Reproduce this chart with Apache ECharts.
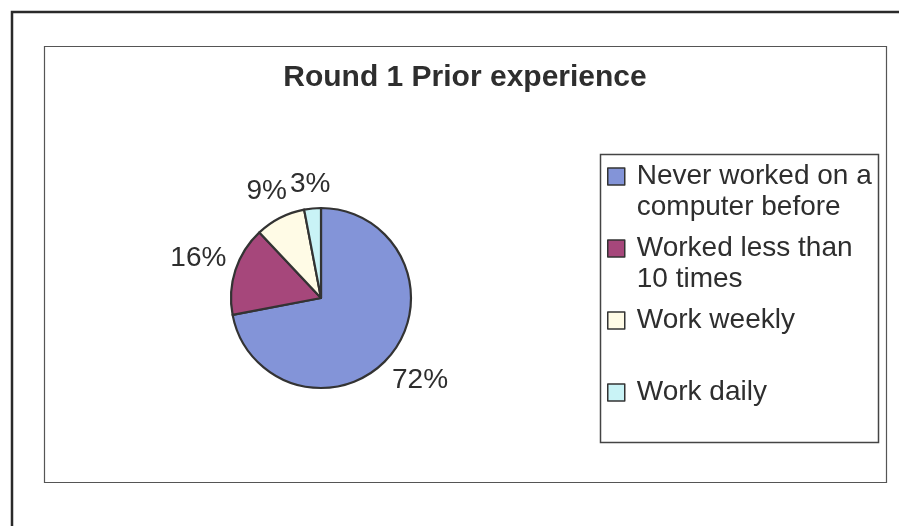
<!DOCTYPE html>
<html>
<head>
<meta charset="utf-8">
<title>Round 1 Prior experience</title>
<script src="https://cdn.jsdelivr.net/npm/echarts@6/dist/echarts.min.js"></script>
<style>
  html, body { margin: 0; padding: 0; background: #ffffff; }
  #chart { width: 899px; height: 526px; }
</style>
</head>
<body>
<div id="chart"></div>
<script>
// Survey answers, percent of respondents
const categories = [
  'Never worked on a computer before',
  'Worked less than 10 times',
  'Work weekly',
  'Work daily'
];
const values = [72, 16, 9, 3];
const sliceColors = ['#8394d8', '#a6477b', '#fffbe6', '#c9f3f6'];

const FONT = '"Liberation Sans", Arial, sans-serif';
const INK = '#2e2e2e';

// Pie geometry (pixels)
const CX = 321, CY = 298, R = 90;
const LABEL_GAP = 8;

const total = values.reduce((a, b) => a + b, 0);

// Place each percentage just outside the rim along the slice's middle angle,
// pushed out far enough that the text box clears the circle.
function pieLabelLayout(params) {
  const i = params.dataIndex;
  let before = 0;
  for (let k = 0; k < i; k++) before += values[k];
  const mid = (before + values[i] / 2) / total * Math.PI * 2;
  const ux = Math.sin(mid), uy = -Math.cos(mid);
  const hw = params.labelRect.width / 2, hh = params.labelRect.height / 2;
  const d = R + LABEL_GAP + hw * Math.abs(ux) + hh * Math.abs(uy);
  return {
    x: CX + d * ux,
    y: CY + d * uy,
    align: 'center',
    verticalAlign: 'middle'
  };
}

// Legend rows all span three text lines so they are evenly spaced; the
// leading blank line keeps the icon level with the first line of text.
const wrapsToTwoLines = [true, true, false, false];
function legendText(name) {
  const i = categories.indexOf(name);
  return '\n' + name + (wrapsToTwoLines[i] ? '' : '\n\u00a0');
}

const chart = echarts.init(document.getElementById('chart'), null, { renderer: 'canvas' });

chart.setOption({
  backgroundColor: '#ffffff',
  animation: false,
  title: {
    text: 'Round 1 Prior experience',
    left: 460,
    top: 58,
    textAlign: 'center',
    textStyle: { fontFamily: FONT, fontSize: 30, fontWeight: 'bold', color: INK }
  },
  legend: {
    orient: 'vertical',
    left: 607,
    top: 130,
    padding: 0,
    itemGap: -21,
    itemWidth: 17,
    itemHeight: 17,
    icon: 'rect',
    selectedMode: false,
    data: categories,
    formatter: legendText,
    itemStyle: { borderColor: '#333', borderWidth: 1.5 },
    textStyle: {
      fontFamily: FONT,
      fontSize: 28,
      lineHeight: 31,
      color: INK,
      padding: [0, 0, 0, 7],
      width: 245,
      overflow: 'break'
    }
  },
  graphic: [
    // page frame (top and left edges)
    { type: 'polyline', z: -1, silent: true,
      shape: { points: [[12, 540], [12, 12], [905, 12]] },
      style: { stroke: '#2a2a2a', lineWidth: 2.5, fill: null } },
    // chart area border
    { type: 'rect', z: -1, silent: true,
      shape: { x: 44.5, y: 46.5, width: 842, height: 436 },
      style: { stroke: '#555', lineWidth: 1.2, fill: 'none' } },
    // legend border
    { type: 'rect', z: -1, silent: true,
      shape: { x: 600.5, y: 154.5, width: 278, height: 288 },
      style: { stroke: '#444', lineWidth: 1.5, fill: 'none' } }
  ],
  series: [{
    type: 'pie',
    center: [CX, CY],
    radius: [0, R],
    startAngle: 90,
    clockwise: true,
    avoidLabelOverlap: false,
    data: categories.map((name, i) => ({
      name: name,
      value: values[i],
      itemStyle: { color: sliceColors[i] }
    })),
    itemStyle: { borderColor: '#333', borderWidth: 2.2 },
    label: {
      show: true,
      position: 'outside',
      formatter: '{c}%',
      fontFamily: FONT,
      fontSize: 28,
      color: INK
    },
    labelLine: { show: false },
    labelLayout: pieLabelLayout,
    emphasis: { disabled: true }
  }]
});
</script>
</body>
</html>
